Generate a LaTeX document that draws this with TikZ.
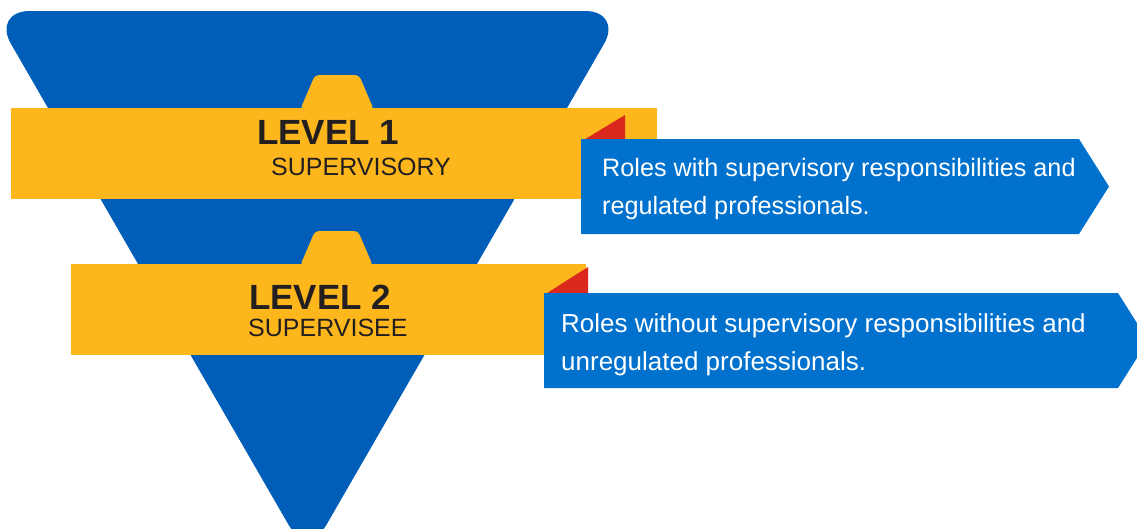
\documentclass[tikz,border=0pt]{standalone}
\usepackage{fontspec}
\setmainfont{Liberation Sans}
\definecolor{pyramidblue}{RGB}{0,94,184}
\definecolor{noteblue}{RGB}{0,114,206}
\definecolor{bandyellow}{RGB}{253,183,28}
\definecolor{flagred}{RGB}{218,41,28}
\definecolor{inkdark}{RGB}{35,31,32}
\tikzset{
  levelhead/.style={anchor=base west, inner sep=0pt, text=inkdark, font=\fontsize{35}{35}\selectfont\bfseries},
  levelsub/.style={anchor=base west, inner sep=0pt, text=inkdark, font=\fontsize{25}{25}\selectfont},
  notetext/.style={anchor=base west, inner sep=0pt, text=white},
  band/.style={fill=bandyellow},
  flag/.style={fill=flagred},
  note/.style={fill=noteblue},
}
\begin{document}
\begin{tikzpicture}[x=1pt,y=-1pt]
\useasboundingbox (0,0) rectangle (1137,528);
\clip (0,0) rectangle (1137,528);

% inverted pyramid
\fill[pyramidblue, rounded corners=38pt] (-8,11) -- (623,11) -- (307.5,557.6) -- cycle;

% level 1 band with its tab
\fill[band, rounded corners=4pt] (300,110) -- (315,75) -- (359,75) -- (374,110) -- cycle;
\fill[band] (11,108) rectangle (657,199);
\fill[flag] (625,115) -- (625,141) -- (582,141) -- cycle;

% level 2 band with its tab
\fill[band, rounded corners=4pt] (300,266) -- (315,231) -- (358,231) -- (373,266) -- cycle;
\fill[band] (71,264) rectangle (586,355);
\fill[flag] (588,267) -- (588,295) -- (544,295) -- cycle;

% description arrows
\fill[note] (581,139) -- (1079,139) -- (1109,186.5) -- (1079,234) -- (581,234) -- cycle;
\fill[note] (544,293) -- (1118,293) -- (1148,340.5) -- (1118,388) -- (544,388) -- cycle;

% level labels
\node[levelhead] (l1head) at (257,144) {LEVEL 1};
\node[levelsub]  (l1sub)  at (271,175) {SUPERVISORY};
\node[levelhead] (l2head) at (249,309) {LEVEL 2};
\node[levelsub]  (l2sub)  at (248,336) {SUPERVISEE};

% descriptions
\node[notetext, font=\fontsize{25.2}{25.2}\selectfont] (n1a) at (602,176) {Roles with supervisory responsibilities and};
\node[notetext, font=\fontsize{25.2}{25.2}\selectfont] (n1b) at (602,214) {regulated professionals.};
\node[notetext, font=\fontsize{26}{26}\selectfont] (n2a) at (561,332) {Roles without supervisory responsibilities and};
\node[notetext, font=\fontsize{26}{26}\selectfont] (n2b) at (561,370) {unregulated professionals.};
\end{tikzpicture}
\end{document}
